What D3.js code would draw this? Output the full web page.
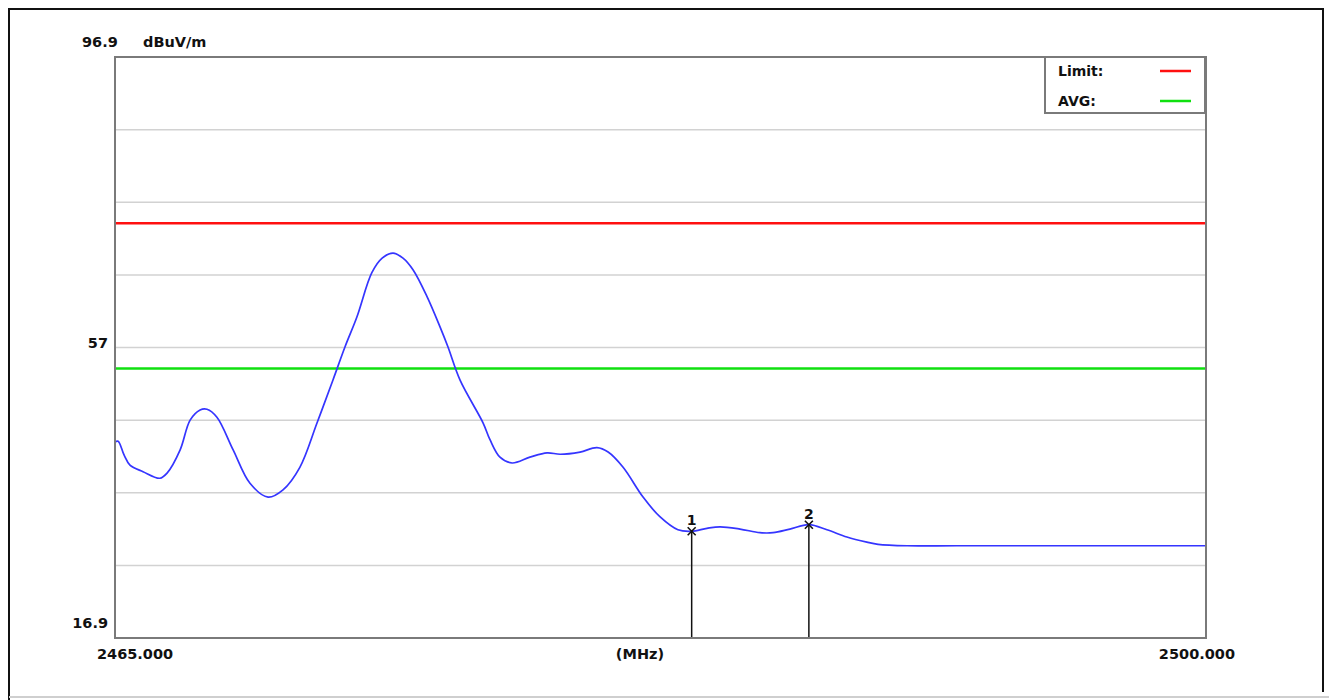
<!DOCTYPE html>
<html>
<head>
<meta charset="utf-8">
<script src="https://cdn.jsdelivr.net/npm/d3@7"></script>
<style>
  html, body { margin: 0; padding: 0; background: #fff; }
  svg { display: block; }
  text { font-family: "DejaVu Sans", sans-serif; font-weight: bold; fill: #111; }
</style>
</head>
<body>
<svg id="chart" width="1329" height="700"></svg>
<script>
// ---- data ----
const freqMHz = [2465.00, 2465.10, 2465.29, 2465.48, 2465.90, 2466.44, 2466.67, 2467.09, 2467.41, 2467.73,
  2467.95, 2468.27, 2468.79, 2469.33, 2469.91, 2470.39, 2470.93, 2471.48, 2471.99, 2472.38,
  2472.76, 2473.24, 2473.57, 2473.92, 2474.24, 2474.56, 2475.01, 2475.43, 2475.68, 2476.07,
  2476.81, 2477.03, 2477.35, 2477.74, 2478.31, 2478.86, 2479.28, 2479.92, 2480.46, 2480.82,
  2481.30, 2481.94, 2482.48, 2483.06, 2483.50, 2483.99, 2484.41, 2485.05, 2485.69, 2486.11,
  2486.65, 2487.26, 2487.84, 2488.48, 2489.12, 2489.48, 2490.41, 2492.00, 2496.00, 2500.00];
const levelDb = [43.9, 44.0, 42.1, 40.7, 39.8, 38.9, 39.6, 42.8, 46.9, 48.3,
  48.4, 47.3, 42.8, 38.2, 36.3, 37.3, 40.4, 46.5, 52.4, 57.0,
  61.1, 67.2, 69.2, 69.9, 69.2, 67.6, 63.9, 59.7, 57.0, 52.4,
  46.5, 44.2, 41.8, 41.0, 41.8, 42.4, 42.2, 42.5, 43.1, 42.5,
  40.4, 36.3, 33.6, 31.8, 31.6, 32.0, 32.2, 31.9, 31.4, 31.4,
  31.9, 32.5, 31.8, 30.8, 30.1, 29.8, 29.6, 29.6, 29.6, 29.6];
const markerLabels = ["1", "2"];
const markerFreq = [2483.50, 2487.26];
const markerLevel = [31.6, 32.5];
const limitNames = ["Limit:", "AVG:"];
const limitValues = [74, 54];
const limitColors = ["#ff1010", "#10e010"];
const yTickValues = [96.9, 57, 16.9];
const yTickLabels = ["96.9", "57", "16.9"];
const gridValues = [26.9, 36.9, 46.9, 56.9, 66.9, 76.9, 86.9];
const xDomain = [2465, 2500];
const yDomain = [16.9, 96.9];
const xLabels = ["2465.000", "(MHz)", "2500.000"];
const yUnit = "dBuV/m";

// ---- layout ----
const svg = d3.select("#chart");
const plot = { left: 115, right: 1206, top: 57, bottom: 638 };
const x = d3.scaleLinear().domain(xDomain).range([plot.left, plot.right]);
const y = d3.scaleLinear().domain(yDomain).range([plot.bottom, plot.top]);

// outer frame
svg.append("rect").attr("x", 0).attr("y", 0).attr("width", 1329).attr("height", 700).attr("fill", "#fff");
svg.append("path").attr("d", "M9,700 V9 H1323 V692").attr("fill", "none").attr("stroke", "#111").attr("stroke-width", 2);
svg.append("line").attr("x1", 9).attr("x2", 1329).attr("y1", 697).attr("y2", 697).attr("stroke", "#cfcfcf").attr("stroke-width", 2);

// grid
svg.append("g").selectAll("line").data(gridValues).join("line")
  .attr("x1", plot.left).attr("x2", plot.right)
  .attr("y1", d => y(d)).attr("y2", d => y(d))
  .attr("stroke", "#d2d2d2").attr("stroke-width", 1.5);

// limit lines
svg.append("g").selectAll("line").data(limitValues).join("line")
  .attr("x1", plot.left).attr("x2", plot.right)
  .attr("y1", d => y(d)).attr("y2", d => y(d))
  .attr("stroke", (d, i) => limitColors[i]).attr("stroke-width", 2.5);

// trace
const data = freqMHz.map((f, i) => ({ f, v: levelDb[i] }));
const line = d3.line().x(d => x(d.f)).y(d => y(d.v)).curve(d3.curveCatmullRom.alpha(0.5));
svg.append("path").datum(data).attr("d", line)
  .attr("fill", "none").attr("stroke", "#3535ff").attr("stroke-width", 1.7);

// markers
const mk = svg.append("g");
markerFreq.forEach((f, i) => {
  const mx = x(f), my = y(markerLevel[i]);
  mk.append("line").attr("x1", mx).attr("x2", mx).attr("y1", my).attr("y2", plot.bottom)
    .attr("stroke", "#111").attr("stroke-width", 1.5);
  mk.append("path").attr("d", `M${mx-4},${my-4} L${mx+4},${my+4} M${mx+4},${my-4} L${mx-4},${my+4}`)
    .attr("stroke", "#111").attr("stroke-width", 1.6);
  mk.append("text").attr("x", mx).attr("y", my - 6).attr("text-anchor", "middle")
    .style("font-weight", "bold").style("font-size", "14px").text(markerLabels[i]);
});

// plot frame
svg.append("rect").attr("x", plot.left).attr("y", plot.top)
  .attr("width", plot.right - plot.left).attr("height", plot.bottom - plot.top)
  .attr("fill", "none").attr("stroke", "#7a7a7a").attr("stroke-width", 2);

// y labels
const fs = "14.5px";
svg.append("text").attr("x", 82).attr("y", y(yTickValues[0]) - 10).style("font-size", fs).text(yTickLabels[0]);
svg.append("text").attr("x", 143).attr("y", y(yTickValues[0]) - 10).style("font-size", fs).text(yUnit);
svg.append("text").attr("x", 108).attr("y", y(yTickValues[1]) + 1).attr("text-anchor", "end").style("font-size", fs).text(yTickLabels[1]);
svg.append("text").attr("x", 108).attr("y", y(yTickValues[2]) - 10).attr("text-anchor", "end").style("font-size", fs).text(yTickLabels[2]);

// x labels
const xl = plot.bottom + 21;
svg.append("text").attr("x", x(xDomain[0]) - 18).attr("y", xl).style("font-size", fs).text(xLabels[0]);
svg.append("text").attr("x", 640).attr("y", xl).attr("text-anchor", "middle").style("font-size", fs).text(xLabels[1]);
svg.append("text").attr("x", x(xDomain[1]) + 29).attr("y", xl).attr("text-anchor", "end").style("font-size", fs).text(xLabels[2]);

// legend
const lg = svg.append("g");
lg.append("rect").attr("x", 1045).attr("y", 57).attr("width", 160).attr("height", 56)
  .attr("fill", "#fff").attr("stroke", "#7a7a7a").attr("stroke-width", 2);
limitNames.forEach((n, i) => {
  const ly = 71 + i * 30;
  lg.append("text").attr("x", 1058).attr("y", ly + 5).style("font-size", "14px").text(n);
  lg.append("line").attr("x1", 1160).attr("x2", 1191).attr("y1", ly).attr("y2", ly)
    .attr("stroke", limitColors[i]).attr("stroke-width", 2.5);
});
</script>
</body>
</html>
